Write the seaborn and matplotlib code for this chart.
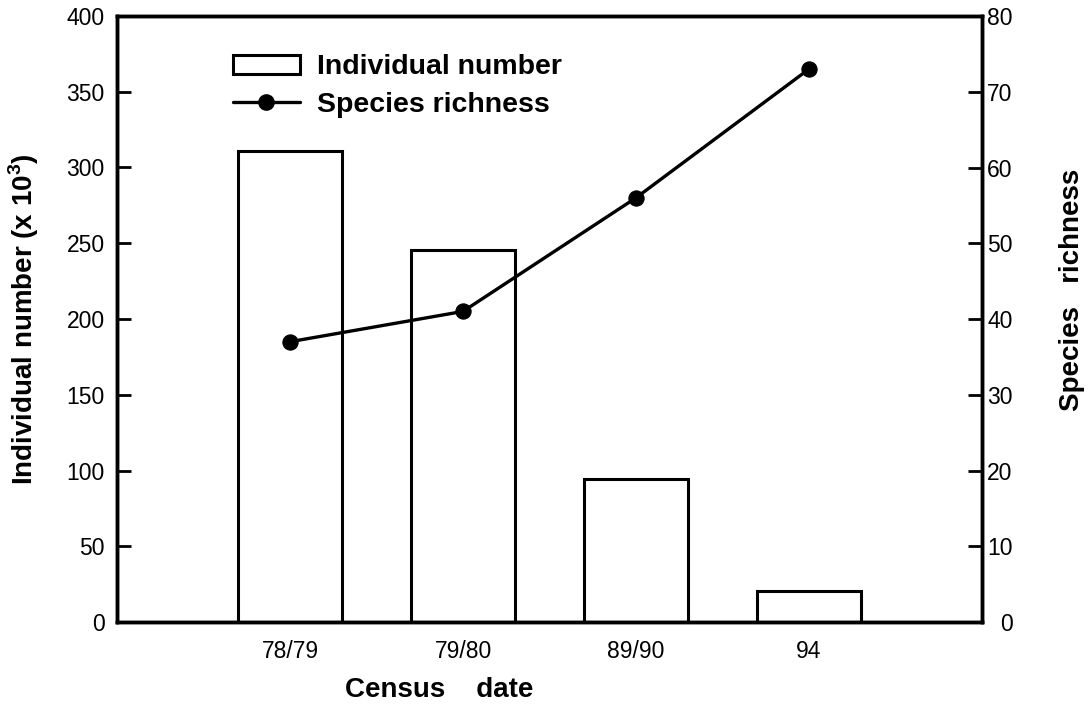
import matplotlib
matplotlib.use("Agg")
import matplotlib.pyplot as plt
import seaborn as sns
import pandas as pd
from matplotlib.patches import Patch
from matplotlib.lines import Line2D

# ---- data ----
census_dates = ["78/79", "79/80", "89/90", "94"]
individual_number = [311, 245.5, 94.5, 20.5]      # x 10^3
species_richness = [37, 41, 56, 73]

sns.set_style("white")
plt.rcParams["font.family"] = ["Liberation Sans", "DejaVu Sans"]
plt.rcParams["mathtext.fontset"] = "custom"
plt.rcParams["mathtext.rm"] = "Liberation Sans"
plt.rcParams["mathtext.bf"] = "Liberation Sans:bold"
plt.rcParams["text.color"] = "black"
plt.rcParams["axes.labelcolor"] = "black"
plt.rcParams["xtick.color"] = "black"
plt.rcParams["ytick.color"] = "black"

df = pd.DataFrame({"date": census_dates,
                   "ind": individual_number,
                   "sp": species_richness})

fig = plt.figure(figsize=(10.9, 7.13), dpi=100)
ax = fig.add_axes([117/1090, 1 - 622/713, 865/1090, 606/713])

sns.barplot(data=df, x="date", y="ind", color="white", edgecolor="black",
            linewidth=2.2, width=0.6, ax=ax, saturation=1)

ax2 = ax.twinx()
sns.lineplot(data=df, x="date", y="sp", color="black", linewidth=2.4,
             marker="o", markersize=11, markeredgecolor="black", ax=ax2,
             sort=False)

ax.set_xlim(-1, 4)
ax.set_ylim(0, 400)
ax2.set_ylim(0, 80)
ax.set_yticks(range(0, 401, 50))
ax2.set_yticks(range(0, 81, 10))

for a in (ax, ax2):
    for s in a.spines.values():
        s.set_linewidth(2.5)
        s.set_color("black")

ax.tick_params(axis="x", length=0, pad=13, labelsize=16.5, colors="black")
ax.tick_params(axis="y", direction="in", length=10, width=2, pad=9,
               labelsize=16.5, colors="black")
ax2.tick_params(axis="y", direction="in", length=10, width=2, pad=22,
                labelsize=16.5, colors="black")
for t in ax2.get_yticklabels():
    t.set_horizontalalignment("right")

ax.set_xlabel("Census    date", fontsize=20, fontweight="bold", color="black")
ax.xaxis.label.set(ha="center", va="center")
ax.xaxis.set_label_coords(0.373, -0.112)

ax.set_ylabel(r"Individual number (x 10$^{\mathbf{3}}$)", fontsize=20,
              fontweight="bold", color="black")
ax.yaxis.label.set(ha="center", va="center", rotation_mode="default")
ax.yaxis.set_label_coords(-0.1075, 0.5)

ax2.set_ylabel("Species   richness", fontsize=20, fontweight="bold",
               color="black")
ax2.yaxis.label.set(ha="center", va="center", rotation_mode="default",
                    rotation=90)
ax2.yaxis.set_label_coords(1.104, 0.548)

handles = [Patch(facecolor="white", edgecolor="black", linewidth=2.2),
           Line2D([], [], color="black", linewidth=2.4, marker="o",
                  markersize=11)]
labels = ["Individual number", "Species richness"]
leg = ax.legend(handles, labels, loc="upper left",
                bbox_to_anchor=(0.134, 0.937), frameon=False,
                prop={"size": 20.5, "weight": "bold"}, borderpad=0,
                borderaxespad=0, handlelength=2.35, handleheight=0.64,
                handletextpad=0.6, labelspacing=0.42)
for t in leg.get_texts():
    t.set_color("black")

fig.savefig("out.png", dpi=100, facecolor="white")
